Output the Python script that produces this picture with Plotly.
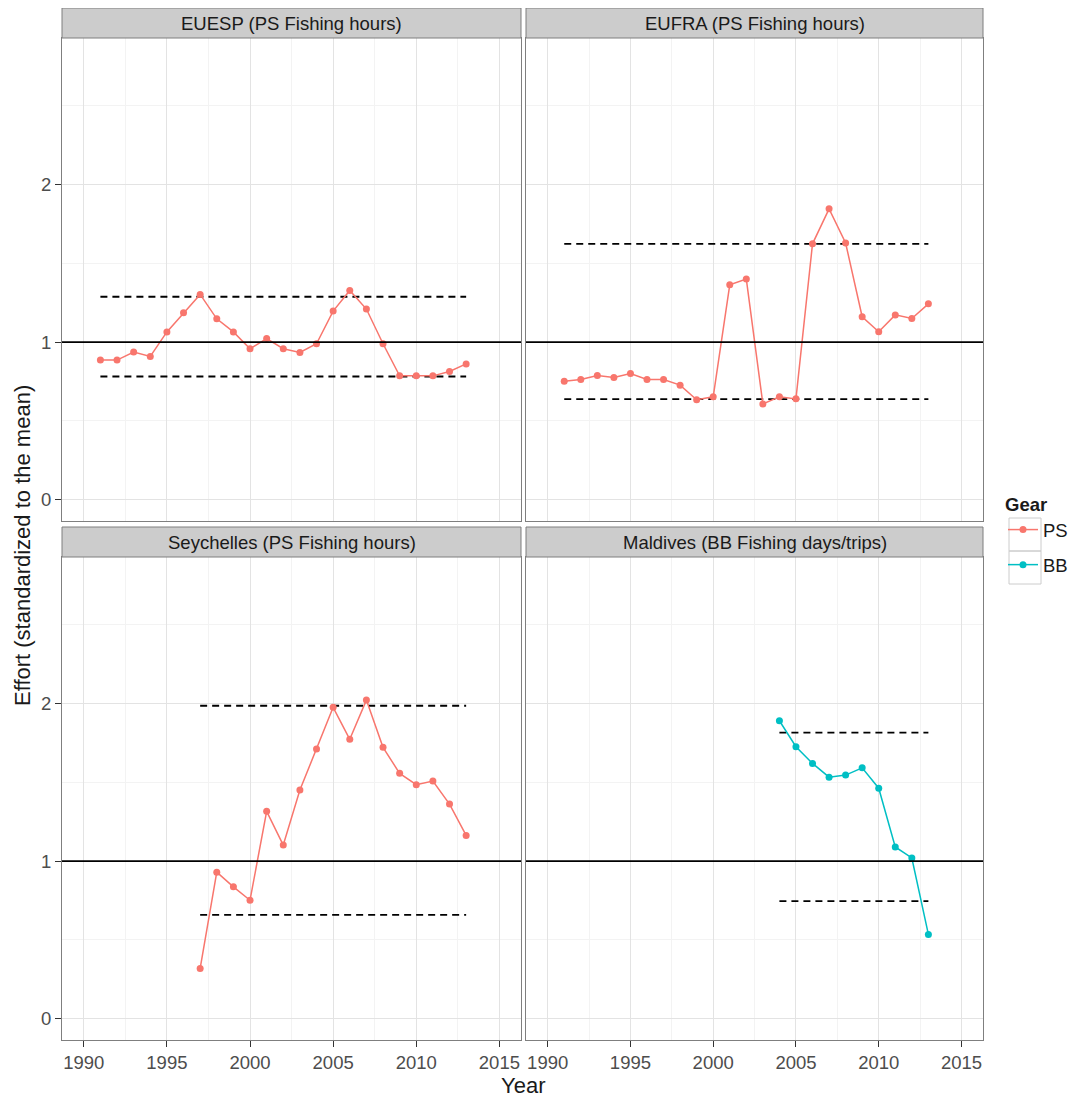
import plotly.graph_objects as go

# ---------------- data ----------------
years_euesp = [1991, 1992, 1993, 1994, 1995, 1996, 1997, 1998, 1999, 2000, 2001, 2002,
               2003, 2004, 2005, 2006, 2007, 2008, 2009, 2010, 2011, 2012, 2013]
effort_euesp = [0.886, 0.886, 0.937, 0.909, 1.065, 1.186, 1.303, 1.148, 1.065, 0.958, 1.023, 0.958,
                0.935, 0.990, 1.197, 1.328, 1.210, 0.990, 0.786, 0.786, 0.786, 0.814, 0.862]

years_eufra = [1991, 1992, 1993, 1994, 1995, 1996, 1997, 1998, 1999, 2000, 2001, 2002,
               2003, 2004, 2005, 2006, 2007, 2008, 2009, 2010, 2011, 2012, 2013]
effort_eufra = [0.752, 0.763, 0.788, 0.776, 0.801, 0.763, 0.763, 0.727, 0.634, 0.653, 1.364, 1.400,
                0.608, 0.653, 0.640, 1.624, 1.846, 1.629, 1.161, 1.066, 1.173, 1.150, 1.243]

years_sey = [1997, 1998, 1999, 2000, 2001, 2002, 2003, 2004, 2005, 2006, 2007, 2008,
             2009, 2010, 2011, 2012, 2013]
effort_sey = [0.319, 0.930, 0.837, 0.752, 1.316, 1.102, 1.451, 1.711, 1.976, 1.773, 2.022, 1.722,
              1.557, 1.485, 1.508, 1.362, 1.163]

years_mdv = [2004, 2005, 2006, 2007, 2008, 2009, 2010, 2011, 2012, 2013]
effort_mdv = [1.891, 1.726, 1.620, 1.533, 1.546, 1.592, 1.463, 1.090, 1.020, 0.535]

panel_titles = ["EUESP (PS Fishing hours)", "EUFRA (PS Fishing hours)",
                "Seychelles (PS Fishing hours)", "Maldives (BB Fishing days/trips)"]
band_upper = [1.288, 1.624, 1.986, 1.815]
band_lower = [0.782, 0.638, 0.659, 0.746]
band_start = [1991, 1991, 1997, 2004]
band_end = [2013, 2013, 2013, 2013]
panel_gear = ["PS", "PS", "PS", "BB"]

gear_names = ["PS", "BB"]
gear_colors = {"PS": "#F8766D", "BB": "#00BFC4"}

x_ticks = [1990, 1995, 2000, 2005, 2010, 2015]
y_ticks = [0, 1, 2]

# ---------------- layout ----------------
OFF = 8  # default page body margin
W, H = 1079 - OFF, 1104 - OFF
P_LEFT, P_RIGHT, P_TOP, P_BOTTOM = 62, 983, 8, 1040
ML = P_LEFT - OFF
MR = W - (P_RIGHT - OFF)
MT = P_TOP - OFF
MB = H - (P_BOTTOM - OFF)
pw = W - ML - MR
ph = H - MT - MB

def px_x(p):
    return (p - P_LEFT) / pw

def px_y(p):
    return (P_BOTTOM - p) / ph

x_dom_left = [0, px_x(521)]
x_dom_right = [px_x(526), 1]
y_dom_top = [px_y(521), px_y(38)]
y_dom_bot = [0, px_y(557)]
strip_top = [px_y(38), px_y(8)]
strip_bot = [px_y(557), px_y(527)]

# 0: top-left, 1: top-right, 2: bottom-left, 3: bottom-right
axis_ids = ["3", "4", "", "2"]
xdoms = [x_dom_left, x_dom_right, x_dom_left, x_dom_right]
ydoms = [y_dom_top, y_dom_top, y_dom_bot, y_dom_bot]
sdoms = [strip_top, strip_top, strip_bot, strip_bot]

series_x = [years_euesp, years_eufra, years_sey, years_mdv]
series_y = [effort_euesp, effort_eufra, effort_sey, effort_mdv]

fig = go.Figure()
font_family = "Liberation Sans, Arial, sans-serif"
small = 18.5
big = 22

shown = set()
for i in range(4):
    xa = "x" + axis_ids[i]
    ya = "y" + axis_ids[i]
    g = panel_gear[i]
    for v in (band_upper[i], band_lower[i]):
        fig.add_trace(go.Scatter(x=[band_start[i], band_end[i]], y=[v, v], mode="lines",
                                 line=dict(color="black", width=1.8, dash="7px,5px"),
                                 xaxis=xa, yaxis=ya, showlegend=False, hoverinfo="skip"))
    fig.add_trace(go.Scatter(x=series_x[i], y=series_y[i], mode="lines+markers",
                             name=g, legendgroup=g,
                             line=dict(color=gear_colors[g], width=1.5),
                             marker=dict(color=gear_colors[g], size=7),
                             xaxis=xa, yaxis=ya, showlegend=(g not in shown)))
    shown.add(g)
    fig.add_shape(type="line", xref=xa + " domain", yref=ya, x0=0, x1=1, y0=1, y1=1,
                  line=dict(color="black", width=1.8), layer="above")
    fig.add_shape(type="rect", xref="paper", yref="paper",
                  x0=xdoms[i][0], x1=xdoms[i][1], y0=sdoms[i][0], y1=sdoms[i][1],
                  fillcolor="#CCCCCC", line=dict(color="#7F7F7F", width=1))
    fig.add_annotation(xref="paper", yref="paper", x=(xdoms[i][0] + xdoms[i][1]) / 2,
                       y=(sdoms[i][0] + sdoms[i][1]) / 2, text=panel_titles[i], showarrow=False,
                       font=dict(family=font_family, size=small, color="#1A1A1A"),
                       xanchor="center", yanchor="middle")

# legend key boxes
for y0, y1 in ((518, 551), (551, 584)):
    fig.add_shape(type="rect", xref="paper", yref="paper",
                  x0=px_x(1009), x1=px_x(1041), y0=px_y(y1), y1=px_y(y0),
                  fillcolor="rgba(0,0,0,0)", line=dict(color="#CCCCCC", width=1))

common_axis = dict(showline=True, mirror=True, linecolor="#7F7F7F", linewidth=1,
                   gridcolor="#E3E3E3", gridwidth=1, zeroline=False,
                   tickfont=dict(family=font_family, size=small, color="#4D4D4D"))

for i in range(4):
    sfx = axis_ids[i]
    bottom = i >= 2
    left = i % 2 == 0
    fig.layout["xaxis" + sfx] = dict(common_axis, domain=xdoms[i], anchor="y" + sfx,
                                     range=[1988.69, 2016.3], tickvals=x_ticks,
                                     showticklabels=bottom, ticks="outside" if bottom else "",
                                     ticklen=6, tickwidth=1.2, tickcolor="#333333",
                                     minor=dict(tick0=1987.5, dtick=5, showgrid=True,
                                                gridcolor="#F3F3F3", ticks=""))
    fig.layout["yaxis" + sfx] = dict(common_axis, domain=ydoms[i], anchor="x" + sfx,
                                     range=[-0.135, 2.93], tickvals=y_ticks,
                                     showticklabels=left, ticks="outside" if left else "",
                                     ticklen=6, tickwidth=1.2, tickcolor="#333333",
                                     minor=dict(tick0=0.5, dtick=1, showgrid=True,
                                                gridcolor="#F3F3F3", ticks=""))

fig.add_annotation(xref="paper", yref="paper", x=0.5, y=px_y(1085), text="Year",
                   showarrow=False, font=dict(family=font_family, size=big, color="#1A1A1A"),
                   xanchor="center", yanchor="middle")
fig.add_annotation(xref="paper", yref="paper", x=px_x(22), y=px_y(546),
                   text="Effort (standardized to the mean)", textangle=-90,
                   showarrow=False, font=dict(family=font_family, size=big, color="#1A1A1A"),
                   xanchor="center", yanchor="middle")

fig.update_layout(
    width=W, height=H,
    margin=dict(l=ML, r=MR, t=MT, b=MB, pad=0),
    paper_bgcolor="white", plot_bgcolor="white",
    legend=dict(title=dict(text="<b>Gear</b>", font=dict(family=font_family, size=small, color="#1A1A1A")),
                x=px_x(1003), y=px_y(487), xanchor="left", yanchor="top",
                font=dict(family=font_family, size=small, color="#1A1A1A"),
                itemwidth=30, tracegroupgap=8, bgcolor="rgba(0,0,0,0)"),
    showlegend=True,
)

fig.write_html("out.html")
